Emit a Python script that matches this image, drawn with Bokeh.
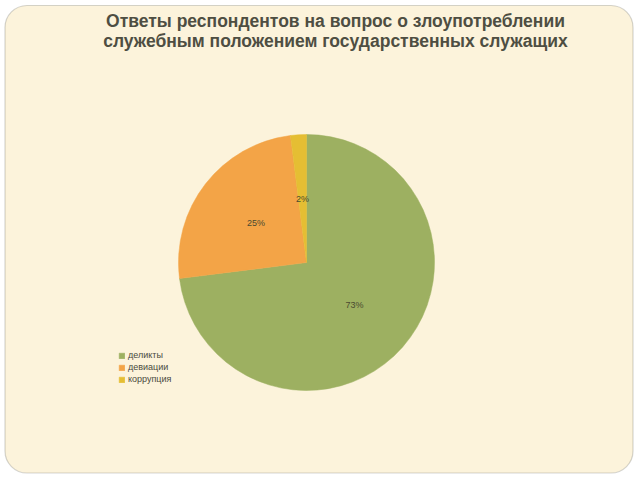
import math
from bokeh.plotting import figure
from bokeh.models import Range1d, BoxAnnotation, Legend, LegendItem, ColumnDataSource
from bokeh.core.properties import value
from bokeh.embed import file_html
from bokeh.resources import INLINE

categories = ["деликты", "девиации", "коррупция"]
shares = [73, 25, 2]
labels = ["73%", "25%", "2%"]
colors = ["#9DB061", "#F3A447", "#E5BE33"]
title_lines = ["Ответы респондентов на вопрос о злоупотреблении",
               "служебным положением государственных служащих"]

W, H = 640, 480
p = figure(width=W, height=H, output_backend="svg", toolbar_location=None,
           x_range=Range1d(0, W), y_range=Range1d(0, H), min_border=0)
p.axis.visible = False
p.grid.visible = False
p.outline_line_color = None
p.background_fill_color = "white"
p.border_fill_color = "white"

box = BoxAnnotation(left=4.5, right=632.5, bottom=7.5, top=475, fill_color="#FCF3DB",
                    fill_alpha=1, line_color="#75746A", line_width=1.2,
                    border_radius=22, level="underlay")
p.add_layout(box)

cx, cy, R = 306, 218, 128
total = sum(shares)
starts, ends, lx, ly = [], [], [], []
acc = 0.0
for v in shares:
    a0 = math.pi / 2 - 2 * math.pi * acc / total
    a1 = math.pi / 2 - 2 * math.pi * (acc + v) / total
    starts.append(a0)
    ends.append(a1)
    mid = (a0 + a1) / 2
    lx.append(cx + 0.5 * R * math.cos(mid))
    ly.append(cy + 0.5 * R * math.sin(mid))
    acc += v

src = ColumnDataSource(dict(start=starts, end=ends, color=colors, cat=categories,
                            lx=lx, ly=ly, lab=labels))
r = p.wedge(x=cx, y=cy, radius=R, start_angle="start", end_angle="end",
            direction="clock", fill_color="color", line_color="color",
            line_width=0.5, source=src)

p.text(x="lx", y="ly", text="lab", source=src, text_align="center",
       text_baseline="middle", text_font_size="9px", text_color="#4A4A30",
       text_font=value("Liberation Sans"))

p.text(x=[335, 335], y=[480 - 20, 480 - 40.5], text=title_lines,
       text_align="center", text_baseline="middle", text_font_size="17.5px",
       text_font_style="bold", text_color="#4E4E42",
       text_font=value("Liberation Sans"))

legend = Legend(items=[LegendItem(label=c, renderers=[r], index=i)
                       for i, c in enumerate(categories)],
                location=(118, 96), orientation="vertical",
                glyph_width=7, glyph_height=7, label_text_font_size="9px",
                label_text_color="#4A4A40", label_height=9, spacing=2,
                padding=0, margin=0, label_standoff=3,
                background_fill_alpha=0, border_line_alpha=0,
                label_text_font="Liberation Sans")
p.add_layout(legend)

open("out.html", "w").write(file_html(p, INLINE))
